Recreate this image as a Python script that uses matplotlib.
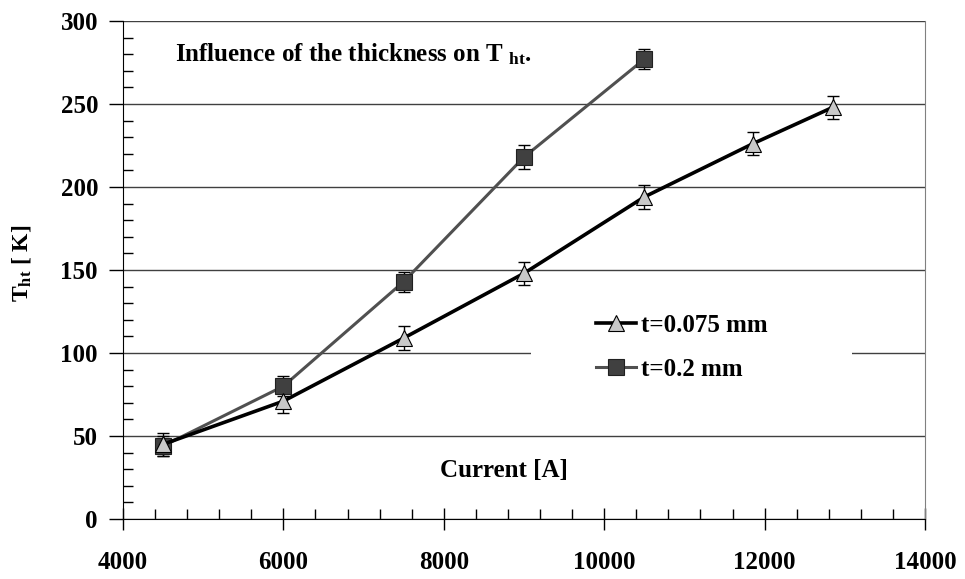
import matplotlib
matplotlib.use("Agg")
import matplotlib.pyplot as plt
from matplotlib.ticker import MultipleLocator
from matplotlib.patches import Rectangle

plt.rcParams['font.family'] = ['Liberation Serif', 'DejaVu Serif']
plt.rcParams['font.weight'] = 'bold'
plt.rcParams['mathtext.fontset'] = 'custom'
plt.rcParams['mathtext.rm'] = 'Liberation Serif:bold'
plt.rcParams['mathtext.it'] = 'Liberation Serif:bold'
plt.rcParams['mathtext.bf'] = 'Liberation Serif:bold'

# Data
current_thin = [4500, 6000, 7500, 9000, 10500, 11850, 12850]
temp_thin = [45, 71, 109, 148, 194, 226, 248]
err_thin = [7, 7, 7, 7, 7, 7, 7]

current_thick = [4500, 6000, 7500, 9000, 10500]
temp_thick = [44, 80, 143, 218, 277]
err_thick = [6, 6, 6, 7, 6]

label_thin = 't=0.075 mm'
label_thick = 't=0.2 mm'
y_ticks = [0, 50, 100, 150, 200, 250, 300]
x_ticks = [4000, 6000, 8000, 10000, 12000, 14000]

fig = plt.figure(figsize=(9.65, 5.79), dpi=100)
ax = fig.add_axes([123/965, 60/579, 802/965, 498/579])
ax.set_xlim(4000, 14000)
ax.set_ylim(0, 300)

ax.set_yticks(y_ticks)
ax.set_xticks(x_ticks)
ax.yaxis.set_minor_locator(MultipleLocator(10))
ax.xaxis.set_minor_locator(MultipleLocator(400))
ax.tick_params(axis='y', which='major', direction='out', length=10, width=1, labelsize=18, pad=8)
ax.tick_params(axis='y', which='minor', direction='in', length=7, width=1)
ax.tick_params(axis='x', which='major', direction='inout', length=16, width=1, labelsize=18, pad=15)
ax.tick_params(axis='x', which='minor', direction='in', length=7, width=1)
for lab in ax.get_xticklabels() + ax.get_yticklabels():
    lab.set_fontweight('bold')

ax.grid(axis='y', which='major', color='#404040', linewidth=1.0, zorder=0)
ax.set_axisbelow(True)
ax.spines['top'].set_visible(False)
ax.spines['right'].set_color('#808080')
ax.spines['left'].set_color('black')
ax.spines['bottom'].set_color('black')

# white patch behind legend (hides gridline)
ax.add_patch(Rectangle((0.509, 0.28), 0.4, 0.16, transform=ax.transAxes,
                       facecolor='white', edgecolor='none', zorder=1))

ax.errorbar(current_thick, temp_thick, yerr=err_thick, fmt='none', ecolor='black',
            elinewidth=1, capsize=4, capthick=1, zorder=2)
ax.errorbar(current_thin, temp_thin, yerr=err_thin, fmt='none', ecolor='black',
            elinewidth=1, capsize=4, capthick=1, zorder=2)
ax.plot(current_thick, temp_thick, color='#505050', linewidth=2.2, marker='s',
        markersize=12, markerfacecolor='#404040', markeredgecolor='#202020',
        markeredgewidth=0.8, label=label_thick, zorder=3)
ax.plot(current_thin, temp_thin, color='black', linewidth=2.6, marker='^',
        markersize=12, markerfacecolor='#c8c8c8', markeredgecolor='black',
        markeredgewidth=0.8, label=label_thin, zorder=4)

h, l = ax.get_legend_handles_labels()
leg = ax.legend([h[1], h[0]], [l[1], l[0]], loc='upper left',
                bbox_to_anchor=(0.59, 0.412), frameon=False,
                handlelength=1.6, handletextpad=0.2, borderpad=0, borderaxespad=0,
                labelspacing=0.85, prop={'weight': 'bold', 'size': 18})
leg.set_zorder(5)

ax.text(4650, 280, 'Influence of the thickness on T $_{ht}$.', fontsize=18,
        fontweight='bold', va='center', ha='left')
ax.text(8750, 29, 'Current [A]', fontsize=18, fontweight='bold', va='center', ha='center')
ax.set_ylabel('T$_{ht}$ [ K]', fontsize=17, fontweight='bold')
ax.yaxis.set_label_coords(-0.112, 0.514)

fig.savefig('out.png', dpi=100)
